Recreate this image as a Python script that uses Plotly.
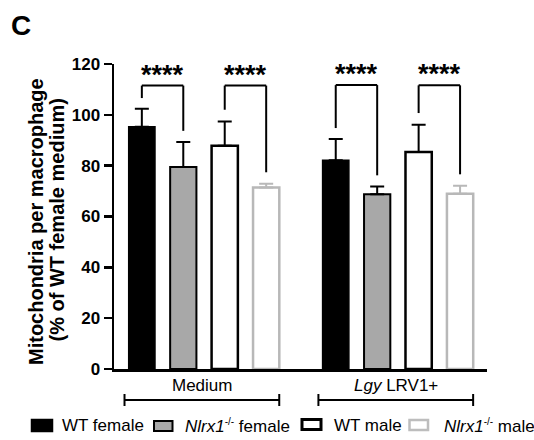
import plotly.graph_objects as go

# ---------------- data ----------------
categories = ["Medium", "Lgy LRV1+"]
category_labels = ["Medium", "<i>Lgy</i> LRV1+"]
SUP = "<sup><span style='font-size:10px'>-/-</span></sup>"
series_names = ["WT female", "<i>Nlrx1</i>" + SUP + " female", "WT male", "<i>Nlrx1</i>" + SUP + " male"]

wt_female = [95.3, 82.1]
wt_female_err = [7.1, 8.4]
ko_female = [79.5, 68.8]
ko_female_err = [9.8, 3.0]
wt_male = [87.8, 85.4]
wt_male_err = [9.6, 10.7]
ko_male = [71.4, 69.0]
ko_male_err = [1.5, 3.1]

y_ticks = [0, 20, 40, 60, 80, 100, 120]

# significance brackets: (category index, left bar, right bar, top, left leg end, right leg end, label)
brackets = [
    (0, 0, 1, 111.5, 106.6, 93.7, "****"),
    (0, 2, 3, 111.5, 102.0, 77.4, "****"),
    (1, 0, 1, 111.7, 94.8, 76.2, "****"),
    (1, 2, 3, 111.6, 100.7, 76.6, "****"),
]

# ---------------- style ----------------
FONT = "Arial, Liberation Sans, Helvetica, sans-serif"
W, H = 534, 440
ML, MR, MT, MB = 114, 47, 64, 71
PW, PH = W - ML - MR, H - MT - MB

fills = ["#000000", "#a8a8a8", "#ffffff", "#ffffff"]
borders = ["#000000", "#000000", "#000000", "#b8b8b8"]
border_w = [1.5, 2, 2.5, 2.5]
err_colors = ["#000000", "#000000", "#000000", "#b8b8b8"]

BARGAP = 0.145
BARGROUPGAP = 0.366
SLOT = (1 - BARGAP) / 4

def px_x(px):
    return (px - ML) / PW

def px_y(py):
    return (H - MB - py) / PH

values = [wt_female, ko_female, wt_male, ko_male]
errors = [wt_female_err, ko_female_err, wt_male_err, ko_male_err]

fig = go.Figure()
for i in range(4):
    fig.add_trace(go.Bar(
        x=categories, y=values[i], name=series_names[i],
        marker=dict(color=fills[i], line=dict(color=borders[i], width=border_w[i])),
        error_y=dict(type="data", array=errors[i], arrayminus=[0] * len(errors[i]),
                     symmetric=False, color=err_colors[i], thickness=2, width=7),
        showlegend=False, hoverinfo="skip",
    ))

shapes = []
annotations = []

# brackets
for (c, a, b, top, la, lb, lab) in brackets:
    xa = c + (a - 1.5) * SLOT
    xb = c + (b - 1.5) * SLOT
    line = dict(color="black", width=2)
    shapes.append(dict(type="line", xref="x", yref="y", x0=xa, x1=xa, y0=la, y1=top, line=line))
    shapes.append(dict(type="line", xref="x", yref="y", x0=xa, x1=xb, y0=top, y1=top, line=line))
    shapes.append(dict(type="line", xref="x", yref="y", x0=xb, x1=xb, y0=top, y1=lb, line=line))
    annotations.append(dict(x=(xa + xb) / 2, y=top, xref="x", yref="y", text="<b>" + lab + "</b>",
                            showarrow=False, yanchor="bottom", yshift=-6,
                            font=dict(family=FONT, size=27, color="black")))

# category labels and group lines below the axis
for c, lab in enumerate(category_labels):
    x0 = c - 0.41
    x1 = c + 0.388
    annotations.append(dict(x=(x0 + x1) / 2, y=px_y(385), xref="x", yref="paper", text=lab,
                            showarrow=False, yanchor="middle",
                            font=dict(family=FONT, size=17, color="black")))
    yl = px_y(400)
    shapes.append(dict(type="line", xref="x", yref="paper", x0=x0, x1=x1, y0=yl, y1=yl,
                       line=dict(color="black", width=2)))
    for xe in (x0, x1):
        shapes.append(dict(type="line", xref="x", yref="paper", x0=xe, x1=xe,
                           y0=px_y(394), y1=px_y(406), line=dict(color="black", width=2)))

# manual legend
leg_boxes = [
    (31.5, 52.5, 419.5, 431.5, "#000000", "#000000", 1.5),
    (154, 172.5, 421, 431, "#a8a8a8", "#000000", 2),
    (302, 321, 419.5, 429.5, "#ffffff", "#000000", 3),
    (409.5, 428, 420, 430, "#ffffff", "#bdbdbd", 2.5),
]
leg_text_x = [60, 182.7, 331.7, 441.7]
for (x0, x1, y0, y1, fc, lc, lw), tx, name in zip(leg_boxes, leg_text_x, series_names):
    shapes.append(dict(type="rect", xref="paper", yref="paper",
                       x0=px_x(x0), x1=px_x(x1), y0=px_y(y0), y1=px_y(y1),
                       fillcolor=fc, line=dict(color=lc, width=lw)))
    annotations.append(dict(x=px_x(tx), y=px_y(425.5), xref="paper", yref="paper", text=name,
                            showarrow=False, xanchor="left", yanchor="middle",
                            font=dict(family=FONT, size=17, color="black")))

# y-axis title (two lines)
annotations.append(dict(x=px_x(36), y=px_y(222), xref="paper", yref="paper",
                        text="<b>Mitochondria per macrophage</b>", textangle=-90, showarrow=False,
                        xanchor="center", yanchor="middle",
                        font=dict(family=FONT, size=20, color="black")))
annotations.append(dict(x=px_x(56), y=px_y(220.5), xref="paper", yref="paper",
                        text="<b>(% of WT female medium)</b>", textangle=-90, showarrow=False,
                        xanchor="center", yanchor="middle",
                        font=dict(family=FONT, size=20, color="black")))

# panel letter
annotations.append(dict(x=px_x(9), y=px_y(25), xref="paper", yref="paper", text="<b>C</b>",
                        showarrow=False, xanchor="left", yanchor="middle",
                        font=dict(family=FONT, size=28, color="black")))

fig.update_layout(
    width=W, height=H,
    margin=dict(l=ML, r=MR, t=MT, b=MB, pad=0),
    paper_bgcolor="white", plot_bgcolor="white",
    barmode="group", bargap=BARGAP, bargroupgap=BARGROUPGAP,
    shapes=shapes, annotations=annotations,
    font=dict(family=FONT, color="black"),
    hovermode=False,
    xaxis=dict(range=[-0.4642, 1.4595], showticklabels=False, ticks="", showgrid=False,
               zeroline=False, showline=True, linecolor="black", linewidth=2.5),
    yaxis=dict(range=[0, 120], tickvals=y_ticks, ticktext=["<b>%d</b>" % v for v in y_ticks],
               ticks="outside", ticklen=8, tickwidth=2.5, tickcolor="black",
               showgrid=False, zeroline=False, showline=True, linecolor="black", linewidth=2.5,
               tickfont=dict(family=FONT, size=17, color="black")),
)

fig.write_html(
    "out.html",
    config={"displayModeBar": False, "staticPlot": True},
    post_script="document.body.style.margin='0';document.body.style.padding='0';"
                "document.body.style.overflow='hidden';",
)
